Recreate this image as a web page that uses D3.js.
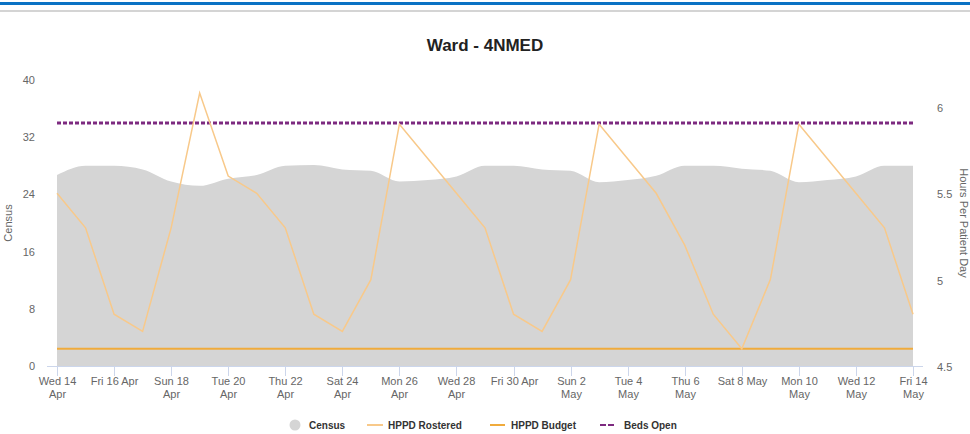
<!DOCTYPE html>
<html>
<head>
<meta charset="utf-8">
<script src="https://cdn.jsdelivr.net/npm/d3@7"></script>
<style>
  body { margin: 0; background: #fff; }
  text { font-family: "Liberation Sans", Arial, sans-serif; }
</style>
</head>
<body>
<div id="chart"></div>
<script>
// daily values, Wed 14 Apr 2021 .. Fri 14 May 2021
const startDay = new Date(2021, 3, 14);
const census = [26.7, 28, 28, 27.5, 25.8, 25.2, 26.2, 26.7, 28, 28.1, 27.5, 27.3, 25.8, 26, 26.5,
                28, 28, 27.5, 27.3, 25.7, 26, 26.6, 28, 28, 27.6, 27.3, 25.7, 26, 26.5, 28, 28];
const hppdRostered = [5.5, 5.3, 4.8, 4.7, 5.3, 6.08, 5.6, 5.5, 5.3, 4.8, 4.7, 5.0, 5.9, 5.7, 5.5,
                      5.3, 4.8, 4.7, 5.0, 5.9, 5.7, 5.5, 5.2, 4.8, 4.6, 5.0, 5.9, 5.7, 5.5, 5.3, 4.8];
const hppdBudget = 4.6;
const bedsOpen = 34;
const censusTicks = [0, 8, 16, 24, 32, 40];
const hppdTicks = [4.5, 5, 5.5, 6];
const dateLabels = [["Wed 14", "Apr"], ["Fri 16 Apr"], ["Sun 18", "Apr"], ["Tue 20", "Apr"],
                    ["Thu 22", "Apr"], ["Sat 24", "Apr"], ["Mon 26", "Apr"], ["Wed 28", "Apr"],
                    ["Fri 30 Apr"], ["Sun 2", "May"], ["Tue 4", "May"], ["Thu 6", "May"],
                    ["Sat 8 May"], ["Mon 10", "May"], ["Wed 12", "May"], ["Fri 14", "May"]];

const W = 970, H = 434;
const days = census.map((d, i) => d3.timeDay.offset(startDay, i));

const svg = d3.select("#chart").append("svg").attr("width", W).attr("height", H);

// header strip
svg.append("rect").attr("x", 0).attr("y", 2).attr("width", W).attr("height", 3).attr("fill", "#0b72c4");
svg.append("rect").attr("x", 0).attr("y", 10).attr("width", W).attr("height", 2).attr("fill", "#d4d4d4");

const x = d3.scaleTime().domain([days[0], days[days.length - 1]]).range([57, 913]);
const yL = d3.scaleLinear().domain([0, 40]).range([366, 80]);
const yR = d3.scaleLinear().domain([4.5, 6.156]).range([366, 80]);

svg.append("text").attr("x", 485).attr("y", 51).attr("text-anchor", "middle")
  .attr("font-size", 17).attr("font-weight", "bold").attr("fill", "#222")
  .text("Ward - 4NMED");

// census area
svg.append("path")
  .datum(census)
  .attr("fill", "#d5d5d5")
  .attr("d", d3.area().curve(d3.curveMonotoneX)
    .x((d, i) => x(days[i])).y0(yL(0)).y1(d => yL(d)));

// x axis
const xTicks = dateLabels.map((d, i) => d3.timeDay.offset(startDay, i * 2));
svg.append("line").attr("x1", 47).attr("x2", 923).attr("y1", 366.5).attr("y2", 366.5)
  .attr("stroke", "#ccd6eb");
const xg = svg.append("g").selectAll("g").data(xTicks).join("g")
  .attr("transform", d => `translate(${Math.round(x(d)) + 0.5},0)`);
xg.append("line").attr("y1", 366).attr("y2", 376).attr("stroke", "#ccd6eb");
xg.append("text").attr("text-anchor", "middle").attr("font-size", 11).attr("fill", "#666")
  .selectAll("tspan").data((d, i) => dateLabels[i]).join("tspan")
  .attr("x", 0).attr("y", (d, j) => 385 + j * 13).text(d => d);

// left axis
svg.append("g").selectAll("text").data(censusTicks).join("text")
  .attr("x", 35).attr("y", d => yL(d) + 4).attr("text-anchor", "end")
  .attr("font-size", 11).attr("fill", "#666").text(d => d);
svg.append("text").attr("transform", `translate(12,${yL(20)}) rotate(-90)`)
  .attr("text-anchor", "middle").attr("font-size", 11).attr("fill", "#666").text("Census");

// right axis
svg.append("g").selectAll("text").data(hppdTicks).join("text")
  .attr("x", 937).attr("y", d => yR(d) + 5).attr("text-anchor", "start")
  .attr("font-size", 11).attr("fill", "#666").text(d => d);
svg.append("text").attr("transform", `translate(960,${yL(20)}) rotate(90)`)
  .attr("text-anchor", "middle").attr("font-size", 11).attr("fill", "#666").text("Hours Per Patient Day");

// beds open
svg.append("line").attr("x1", x(days[0])).attr("x2", x(days[days.length - 1]))
  .attr("y1", yL(bedsOpen)).attr("y2", yL(bedsOpen))
  .attr("stroke", "#7d2a80").attr("stroke-width", 3).attr("stroke-dasharray", "4,2");

// hppd budget
svg.append("line").attr("x1", x(days[0])).attr("x2", x(days[days.length - 1]))
  .attr("y1", yR(hppdBudget)).attr("y2", yR(hppdBudget))
  .attr("stroke", "#f0ab3c").attr("stroke-width", 2);

// hppd rostered
svg.append("path")
  .datum(hppdRostered)
  .attr("fill", "none").attr("stroke", "#f8c98a").attr("stroke-width", 1.5)
  .attr("d", d3.line().x((d, i) => x(days[i])).y(d => yR(d)));

// legend
const legend = svg.append("g").attr("font-size", 10).attr("font-weight", "bold").attr("fill", "#333");
legend.append("circle").attr("cx", 295).attr("cy", 425).attr("r", 5.5).attr("fill", "#d5d5d5");
legend.append("line").attr("x1", 367).attr("x2", 383).attr("y1", 425).attr("y2", 425).attr("stroke", "#f8c98a").attr("stroke-width", 2);
legend.append("line").attr("x1", 490).attr("x2", 505).attr("y1", 425).attr("y2", 425).attr("stroke", "#f0ab3c").attr("stroke-width", 2);
legend.append("line").attr("x1", 600).attr("x2", 616).attr("y1", 425).attr("y2", 425).attr("stroke", "#7d2a80").attr("stroke-width", 2).attr("stroke-dasharray", "6,2");
const legendItems = [["Census", 309], ["HPPD Rostered", 388], ["HPPD Budget", 511], ["Beds Open", 624]];
legend.selectAll("text").data(legendItems).join("text")
  .attr("x", d => d[1]).attr("y", 429).attr("font-family", "DejaVu Sans").text(d => d[0]);
</script>
</body>
</html>
